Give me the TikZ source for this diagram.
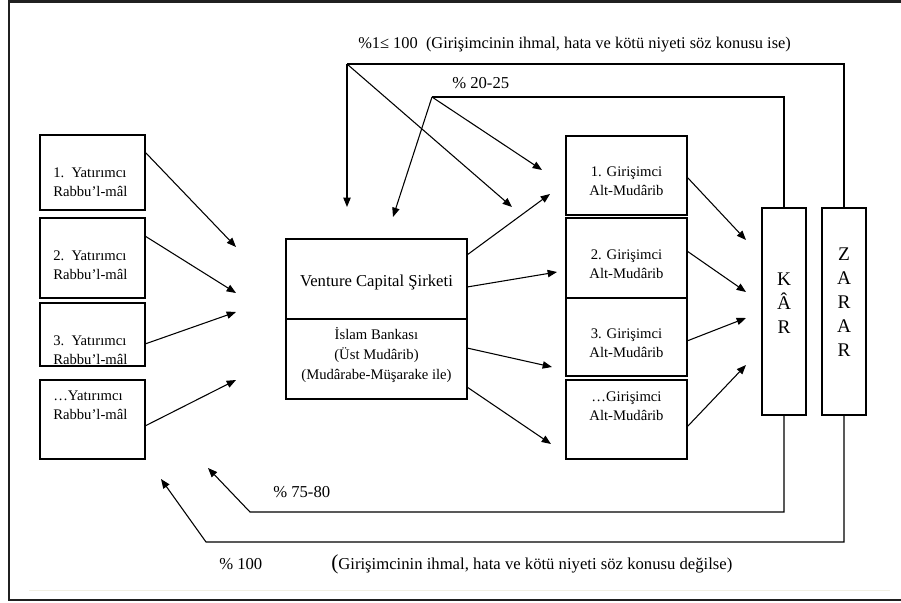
\documentclass[tikz,border=0pt]{standalone}
\usepackage{fontspec}
\setmainfont{Liberation Serif}
\usetikzlibrary{arrows.meta,fit}
\definecolor{faint}{HTML}{F1EFE2}
\definecolor{frame}{HTML}{202020}
\tikzset{
  box/.style={draw, line width=0.85pt, inner sep=0pt, outer sep=0pt},
  lbl/.style={font=\fontsize{11}{14.25}\selectfont, inner sep=0pt},
  bigl/.style={font=\fontsize{12.5}{15}\selectfont, inner sep=0pt},
  vlet/.style={font=\fontsize{14.5}{18}\selectfont, inner sep=0pt, align=center},
  conn/.style={line width=0.8pt},
  flow/.style={line width=0.8pt, -{Triangle[length=7pt,width=5.5pt]}},
}
\begin{document}
\begin{tikzpicture}[x=0.75pt,y=-0.75pt]
\useasboundingbox (0,0) rectangle (901,603);
% outer frame
\draw[frame, line width=1.5pt] (901,1.5) -- (9,1.5) -- (9,600) -- (901,600);
\draw[faint, line width=0.75pt] (29,590) -- (890,590);

% left boxes
\node[box, fit={(40,135)(145,210)}] (L1) {};
\node[box, fit={(40,218)(145,298)}] (L2) {};
\node[box, fit={(40,303)(145,366)}] (L3) {};
\node[box, fit={(40,380)(145,459)}] (L4) {};
\node[lbl, align=left, anchor=west] (L1t) at (53,182) {1.\ \ Yatırımcı\\Rabbu’l-mâl};
\node[lbl, align=left, anchor=west] (L2t) at (53,265) {2.\ \ Yatırımcı\\Rabbu’l-mâl};
\node[lbl, align=left, anchor=west] (L3t) at (53,350) {3.\ \ Yatırımcı\\Rabbu’l-mâl};
\node[lbl, align=left, anchor=west] (L4t) at (53,405.5) {…Yatırımcı\\Rabbu’l-mâl};

% center box
\node[box, fit={(286,239)(467,319)}] (Ctop) {};
\node[box, fit={(286,319)(467,399)}] (Cbot) {};
\node[inner sep=0pt, font=\fontsize{12.5}{15}\selectfont] (Ct) at (376.5,282) {Venture Capital Şirketi};
\node[lbl, align=center, font=\fontsize{11}{15}\selectfont] (Cb) at (376.5,355) {İslam Bankası\\(Üst Mudârib)\\(Mudârabe-Müşarake ile)};

% right boxes
\node[box, fit={(566,136)(687,215)}] (R1) {};
\node[box, fit={(566,218)(687,298)}] (R2) {};
\node[box, fit={(566,298)(687,376)}] (R3) {};
\node[box, fit={(566,380)(687,459)}] (R4) {};
\node[lbl, align=center] (R1t) at (626.5,181) {1. Girişimci\\Alt-Mudârib};
\node[lbl, align=center] (R2t) at (626.5,264) {2. Girişimci\\Alt-Mudârib};
\node[lbl, align=center] (R3t) at (626.5,343) {3. Girişimci\\Alt-Mudârib};
\node[lbl, align=center] (R4t) at (626.5,406) {…Girişimci\\Alt-Mudârib};

% KAR / ZARAR
\node[box, fit={(762,208)(806,415)}] (K) {};
\node[box, fit={(822,208)(866,415)}] (Z) {};
\node[vlet] (Kt) at (784,303) {K\\Â\\R};
\node[vlet] (Zt) at (844,302.5) {Z\\A\\R\\A\\R};

% free ends
\coordinate (a1) at (236,247);
\coordinate (a2) at (236,293);
\coordinate (a3) at (236,312);
\coordinate (a4) at (236,380);
\coordinate (b1) at (550,194);
\coordinate (b2) at (557,272);
\coordinate (b3) at (552,367);
\coordinate (b4) at (551,444);
\coordinate (k1) at (746,240);
\coordinate (k2) at (746,292);
\coordinate (k3) at (746,318);
\coordinate (k4) at (746,365);
\coordinate (tz) at (347,64);
\coordinate (tk) at (432,97);
\coordinate (d1) at (347,207);
\coordinate (d2) at (512,207);
\coordinate (d3) at (393,217);
\coordinate (d4) at (542,170);
\coordinate (bk) at (250,512);
\coordinate (bz) at (206,542);
\coordinate (e1) at (208,468);
\coordinate (e2) at (161,479);

% investors -> center
\draw[flow] (L1.east |- 0,152) -- (a1);
\draw[flow] (L2.east |- 0,236) -- (a2);
\draw[flow] (L3.east |- 0,344) -- (a3);
\draw[flow] (L4.east |- 0,426) -- (a4);

% center -> entrepreneurs
\draw[flow] (Ctop.east |- 0,255) -- (b1);
\draw[flow] (Ctop.east |- 0,287) -- (b2);
\draw[flow] (Cbot.east |- 0,348) -- (b3);
\draw[flow] (Cbot.east |- 0,387) -- (b4);

% entrepreneurs -> KAR
\draw[flow] (R1.east |- 0,177) -- (k1);
\draw[flow] (R2.east |- 0,251) -- (k2);
\draw[flow] (R3.east |- 0,341) -- (k3);
\draw[flow] (R4.east |- 0,427) -- (k4);

% top returns
\draw[conn] (Z.north) |- (tz);
\draw[flow] (tz) -- (d1);
\draw[flow] (tz) -- (d2);
\draw[conn] (K.north) |- (tk);
\draw[flow] (tk) -- (d3);
\draw[flow] (tk) -- (d4);

% bottom returns
\draw[flow] (K.south) |- (bk) -- (e1);
\draw[flow] (Z.south) |- (bz) -- (e2);

% labels
\node[bigl, anchor=west, font=\fontsize{12.3}{15}\selectfont] (t1) at (358,45) {\%1≤ 100\ \ (Girişimcinin ihmal, hata ve kötü niyeti söz konusu ise)};
\node[bigl, anchor=west] (t2) at (452,83) {\% 20-25};
\node[bigl, anchor=west] (t3) at (273,492) {\% 75-80};
\node[bigl, anchor=west] (t4) at (219,564) {\% 100};
\node[bigl, anchor=west] (t5) at (331,564) {{\fontsize{16}{16}\selectfont(}Girişimcinin ihmal, hata ve kötü niyeti söz konusu değilse)};
\end{tikzpicture}
\end{document}
